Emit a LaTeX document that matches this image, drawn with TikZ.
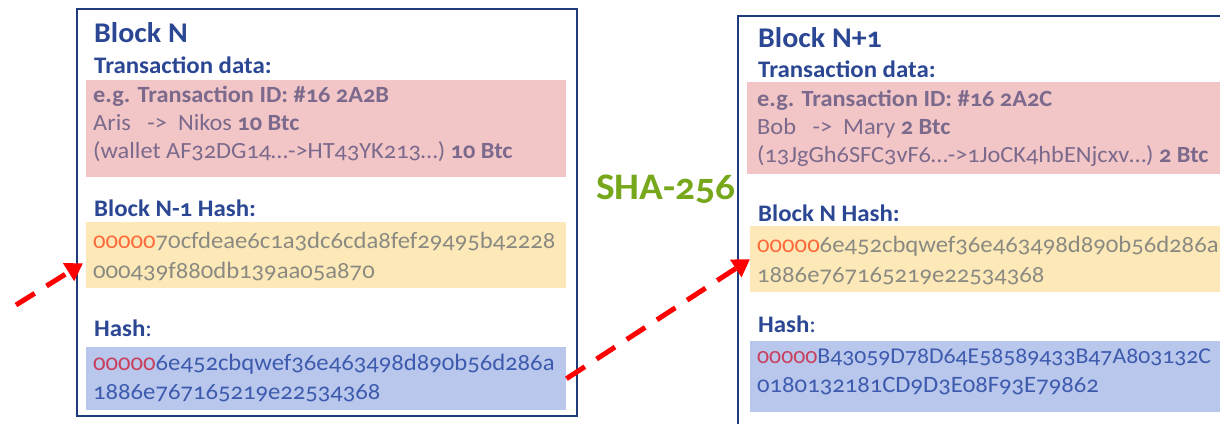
\documentclass[tikz,border=0pt]{standalone}
\usepackage{fontspec}
\setmainfont{Carlito}[Numbers=OldStyle, FakeStretch=1.05]
\usetikzlibrary{arrows.meta}
\definecolor{frameblue}{HTML}{1F3B7D}
\definecolor{headblue}{HTML}{2B4794}
\definecolor{pinkfill}{HTML}{F2C5C7}
\definecolor{pinktxt}{HTML}{7B6A8C}
\definecolor{yellowfill}{HTML}{FDE9B8}
\definecolor{yellowtxt}{HTML}{8A8A82}
\definecolor{zeroorange}{HTML}{FF6A3A}
\definecolor{bluefill}{HTML}{B8C7EB}
\definecolor{bluetxt}{HTML}{3D5AAE}
\definecolor{zerocrimson}{HTML}{C8405E}
\definecolor{shagreen}{HTML}{77A81C}
\newcommand{\zo}{{\color{zeroorange}00000}}
\newcommand{\zc}{{\color{zerocrimson}00000}}

\tikzset{
  frame/.style={draw=frameblue, line width=2.4pt, anchor=north west, inner sep=0pt},
  fillbox/.style={draw=none, anchor=north west, inner sep=0pt},
  title/.style={anchor=base west, inner sep=0pt, text=headblue, font=\fontsize{28.5}{30}\selectfont\bfseries},
  head/.style={anchor=base west, inner sep=0pt, text=headblue, font=\fontsize{23.7}{25}\selectfont\bfseries},
  txline/.style={anchor=base west, inner sep=0pt, text=pinktxt, font=\fontsize{23.2}{25}\selectfont},
  prevline/.style={anchor=base west, inner sep=0pt, text=yellowtxt, font=\fontsize{23.5}{25}\selectfont},
  hashline/.style={anchor=base west, inner sep=0pt, text=bluetxt, font=\fontsize{23.5}{25}\selectfont},
  link/.style={draw=red, line width=5pt, dash pattern=on 22pt off 14pt, -{Triangle[length=17pt,width=20pt]}}
}

\begin{document}
\begin{tikzpicture}[x=1pt,y=-1pt]
	%%%%% START %%%%%
	\useasboundingbox (0,0) rectangle (1220,423);
	\clip (0,0) rectangle (1220,423);

	% block N
	\node[fillbox, fill=pinkfill, minimum width=480pt, minimum height=97pt] (txL) at (86,80) {};
	\node[fillbox, fill=yellowfill, minimum width=480pt, minimum height=66pt] (prevL) at (86,222) {};
	\node[fillbox, fill=bluefill, minimum width=480pt, minimum height=63pt] (hashL) at (86,347) {};
	\node[frame, minimum width=500pt, minimum height=407pt] (blockL) at (76,8) {};

	\node[title] (titleL) at (94,42) {Block N};
	\node[head] (txlblL) at (94,73) {Transaction data:};
	\node[txline] (txidL) at (93,102) {\textbf{e.g. Transaction ID: \#16 2A2B}};
	\node[txline] (txfromL) at (93,130) {Aris\ \ \ ->\ \ Nikos \textbf{10 Btc}};
	\node[txline] (txwalL) at (93,158) {(wallet AF32DG14…->HT43YK213…) \textbf{10 Btc}};
	\node[head] (prevlblL) at (94,216) {Block N-1 Hash:};
	\node[prevline] (prevaL) at (93,248) {\zo70cfdeae6c1a3dc6cda8fef29495b42228};
	\node[prevline] (prevbL) at (93,278) {000439f880db139aa05a870};
	\node[head] (hashlblL) at (94,336) {Hash\mdseries:};
	\node[hashline] (hashaL) at (93,370) {\zc6e452cbqwef36e463498d890b56d286a};
	\node[hashline] (hashbL) at (93,399) {1886e767165219e22534368};

	% block N+1
	\node[fillbox, fill=pinkfill, minimum width=500pt, minimum height=92pt] (txR) at (747,82) {};
	\node[fillbox, fill=yellowfill, minimum width=500pt, minimum height=66pt] (prevR) at (750,226) {};
	\node[fillbox, fill=bluefill, minimum width=500pt, minimum height=71pt] (hashR) at (750,341) {};
	\node[frame, minimum width=600pt, minimum height=430pt] (blockR) at (737,15) {};

	\node[title] (titleR) at (758,47) {Block N+1};
	\node[head] (txlblR) at (758,77) {Transaction data:};
	\node[txline] (txidR) at (757,106) {\textbf{e.g. Transaction ID: \#16 2A2C}};
	\node[txline] (txfromR) at (757,134) {Bob\ \ \ ->\ \ Mary \textbf{2 Btc}};
	\node[txline] (txwalR) at (757,162) {(13JgGh6SFC3vF6…->1JoCK4hbENjcxv…) \textbf{2 Btc}};
	\node[head] (prevlblR) at (758,221) {Block N Hash:};
	\node[prevline] (prevaR) at (757,252) {\zo6e452cbqwef36e463498d890b56d286a};
	\node[prevline] (prevbR) at (757,282) {1886e767165219e22534368};
	\node[head] (hashlblR) at (758,332) {Hash\mdseries:};
	\node[hashline, font=\fontsize{22.6}{25}\selectfont] (hashaR) at (757,363) {\zc B43059D78D64E58589433B47A803132C};
	\node[hashline] (hashbR) at (757,392) {0180132181CD9D3E08F93E79862};

	\node[anchor=base west, inner sep=0pt, text=shagreen, font=\fontsize{37.5}{39}\selectfont\bfseries] (sha) at (596,199) {SHA-256};

	% links
	\coordinate (inL) at (16,305);
	\draw[link] (inL) -- ([xshift=-3pt,yshift=-8pt]prevL.west);
	\draw[link] (hashL.east) -- (prevR.west);
	%%%%% END %%%%%
\end{tikzpicture}
\end{document}
